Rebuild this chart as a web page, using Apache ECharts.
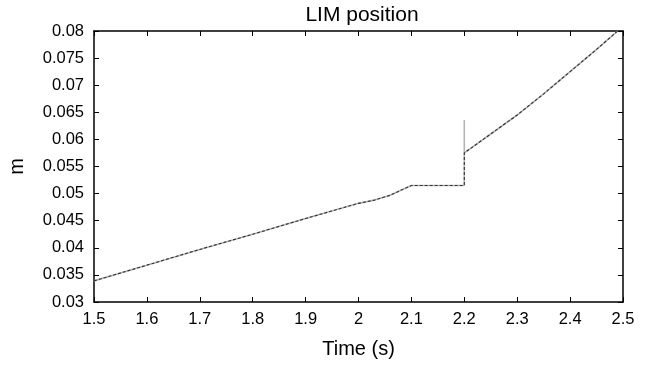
<!DOCTYPE html>
<html>
<head>
<meta charset="utf-8">
<script src="https://cdn.jsdelivr.net/npm/echarts@6/dist/echarts.min.js"></script>
<style>html,body{margin:0;padding:0;background:#fff}#c{width:646px;height:366px}</style>
</head>
<body>
<div id="c"></div>
<script>
var xTicks = [1.5, 1.6, 1.7, 1.8, 1.9, 2.0, 2.1, 2.2, 2.3, 2.4, 2.5];
var yTicks = [0.03, 0.035, 0.04, 0.045, 0.05, 0.055, 0.06, 0.065, 0.07, 0.075, 0.08];
// time samples and positions (reference trace, gray solid, with spike at 2.2)
var refTime = [1.5, 1.6, 1.7, 1.8, 1.9, 2.0, 2.03, 2.06, 2.08, 2.1, 2.2, 2.2, 2.2, 2.25, 2.3, 2.35, 2.4, 2.45, 2.49];
var refPos  = [0.0339, 0.0368, 0.0397, 0.0425, 0.0454, 0.0482, 0.0488, 0.0497, 0.0506, 0.0515, 0.0515, 0.0636, 0.0575, 0.0610, 0.0645, 0.0684, 0.0725, 0.0766, 0.0800];
// measured trace, dark dashed
var measTime = [1.5, 1.6, 1.7, 1.8, 1.9, 2.0, 2.03, 2.06, 2.08, 2.1, 2.2, 2.2, 2.25, 2.3, 2.35, 2.4, 2.45, 2.49];
var measPos  = [0.0339, 0.0368, 0.0397, 0.0425, 0.0454, 0.0482, 0.0488, 0.0497, 0.0506, 0.0515, 0.0515, 0.0575, 0.0610, 0.0645, 0.0684, 0.0725, 0.0766, 0.0800];

function pairs(a, b) { return a.map(function (v, i) { return [v, b[i]]; }); }
var font = 'Liberation Sans, Arial, sans-serif';
var chart = echarts.init(document.getElementById('c'), null, {renderer: 'canvas'});
var axLine = {show: true, lineStyle: {color: '#000', width: 1.5}};
var tick = {show: true, inside: true, length: 5, lineStyle: {color: '#000', width: 1}};
chart.setOption({
  animation: false,
  backgroundColor: '#fff',
  title: {text: 'LIM position', left: 357, top: 0, textAlign: 'center',
    textStyle: {fontFamily: font, fontSize: 21, fontWeight: 'normal', color: '#000'}},
  grid: {left: 94, right: 23, top: 31, bottom: 64, containLabel: false, outerBoundsMode: 'none'},
  xAxis: [{
    type: 'value', min: 1.5, max: 2.5, interval: 0.1, position: 'bottom',
    axisLine: axLine, axisTick: tick, splitLine: {show: false},
    axisLabel: {fontFamily: font, fontSize: 16.5, color: '#000', margin: 9,
      formatter: function (v) { return String(+v.toFixed(1)); }},
    name: 'Time (s)', nameLocation: 'middle', nameGap: 37,
    nameTextStyle: {fontFamily: font, fontSize: 20, color: '#000'}
  }, {
    type: 'value', min: 1.5, max: 2.5, interval: 0.1, position: 'top',
    axisLine: axLine, axisTick: tick, splitLine: {show: false}, axisLabel: {show: false}
  }],
  yAxis: [{
    type: 'value', min: 0.03, max: 0.08, interval: 0.005, position: 'left',
    axisLine: axLine, axisTick: tick, splitLine: {show: false},
    axisLabel: {fontFamily: font, fontSize: 16.5, color: '#000', margin: 10,
      formatter: function (v) { return String(+v.toFixed(3)); }},
    name: 'm', nameLocation: 'middle', nameGap: 67, nameRotate: 90,
    nameTextStyle: {fontFamily: font, fontSize: 20, color: '#000'}
  }, {
    type: 'value', min: 0.03, max: 0.08, interval: 0.005, position: 'right',
    axisLine: axLine, axisTick: tick, splitLine: {show: false}, axisLabel: {show: false}
  }],
  series: [{
    type: 'line', data: pairs(refTime, refPos), showSymbol: false, symbol: 'none',
    lineStyle: {color: '#b4b4b4', width: 1.6}, clip: true, z: 2
  }, {
    type: 'line', data: pairs(measTime, measPos), showSymbol: false, symbol: 'none',
    lineStyle: {color: '#333', width: 1.1, type: [3, 2]}, clip: true, z: 3
  }]
});
</script>
</body>
</html>
